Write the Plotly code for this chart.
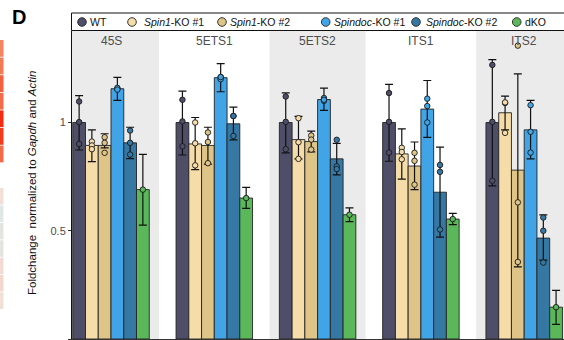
import plotly.graph_objects as go

# ---------------- data ----------------
groups = ["45S", "5ETS1", "5ETS2", "ITS1", "ITS2"]
genotypes = ["WT", "Spin1-KO #1", "Spin1-KO #2", "Spindoc-KO #1", "Spindoc-KO #2", "dKO"]
legend_labels = ["WT", "<i>Spin1</i>-KO #1", "<i>Spin1</i>-KO #2",
                 "<i>Spindoc</i>-KO #1", "<i>Spindoc</i>-KO #2", "dKO"]

means = {
    "WT":            [1.000, 1.000, 1.000, 1.000, 1.000],
    "Spin1-KO #1":   [0.894, 0.901, 0.921, 0.855, 1.045],
    "Spin1-KO #2":   [0.894, 0.894, 0.912, 0.799, 0.780],
    "Spindoc-KO #1": [1.156, 1.207, 1.106, 1.062, 0.966],
    "Spindoc-KO #2": [0.906, 0.994, 0.832, 0.678, 0.466],
    "dKO":           [0.690, 0.651, 0.574, 0.554, 0.147],
}
err_low = {
    "WT":            [0.873, 0.850, 0.860, 0.821, 0.707],
    "Spin1-KO #1":   [0.819, 0.782, 0.832, 0.738, 0.966],
    "Spin1-KO #2":   [0.883, 0.808, 0.864, 0.690, 0.333],
    "Spindoc-KO #1": [1.102, 1.142, 1.056, 0.931, 0.832],
    "Spindoc-KO #2": [0.833, 0.920, 0.758, 0.471, 0.364],
    "dKO":           [0.526, 0.603, 0.542, 0.528, 0.068],
}
err_high = {
    "WT":            [1.124, 1.145, 1.137, 1.176, 1.290],
    "Spin1-KO #1":   [0.966, 1.023, 1.028, 0.971, 1.122],
    "Spin1-KO #2":   [0.948, 0.978, 0.960, 0.910, 1.225],
    "Spindoc-KO #1": [1.208, 1.272, 1.159, 1.194, 1.102],
    "Spindoc-KO #2": [0.978, 1.071, 0.904, 0.886, 0.573],
    "dKO":           [0.853, 0.700, 0.606, 0.580, 0.225],
}
points = {
    "WT":            [[1.097, 0.901, 1.002], [1.105, 0.890, 1.005], [1.120, 0.877, 1.003],
                      [1.136, 0.861, 1.003], [1.266, 0.731, 1.003]],
    "Spin1-KO #1":   [[0.912, 0.894, 0.877], [1.000, 0.904, 0.802], [1.020, 0.909, 0.832],
                      [0.883, 0.864, 0.830], [1.090, 0.952, 1.093]],
    "Spin1-KO #2":   [[0.932, 0.906, 0.860], [0.954, 0.910, 0.812], [0.940, 0.921, 0.875],
                      [0.860, 0.823, 0.713], [1.355, 0.631, 0.356]],
    "Spindoc-KO #1": [[1.156, 1.160, 1.152], [1.210, 1.200, 1.210], [1.113, 1.100, 1.105],
                      [1.110, 1.000, 1.076], [1.080, 0.861, 0.957]],
    "Spindoc-KO #2": [[0.963, 0.906, 0.852], [1.030, 1.030, 0.938], [0.920, 0.797, 0.785],
                      [0.804, 0.772, 0.506], [0.561, 0.500, 0.353]],
    "dKO":           [[0.690], [0.651], [0.574], [0.554], [0.147]],
}
ytick_vals = [0, 0.5, 1]
ytick_text = ["0", "0.5", "1"]

# ---------------- styles ----------------
colors = ["#4f4e68", "#f5dca8", "#dfc487", "#40a4e6", "#3678a4", "#5bb85a"]
FONT = "Liberation Sans, Arial, sans-serif"
W, H = 564, 340
ML, MR, MT, MB = 72, 0, 31, 1
PW, PH = W - ML - MR, H - MT - MB
bar_w = 0.1234
unit_px = 103.3
x_lo = -(111 - ML) / unit_px
x_hi = x_lo + PW / unit_px
y_hi = PH / 216.5


def X(px):
    return (px - ML) / PW


def Y(py):
    return (H - MB - py) / PH


fig = go.Figure()

n = len(genotypes)
for k, g in enumerate(genotypes):
    xs = [i + (k - (n - 1) / 2) * bar_w for i in range(len(groups))]
    m = means[g]
    fig.add_trace(go.Bar(
        x=xs, y=m, width=bar_w,
        marker=dict(color=colors[k], line=dict(color="#222222", width=0.9)),
        error_y=dict(type="data", symmetric=False,
                     array=[h - v for h, v in zip(err_high[g], m)],
                     arrayminus=[v - l for l, v in zip(err_low[g], m)],
                     color="#111111", thickness=1.2, width=4),
        showlegend=False, name=g, hoverinfo="skip",
    ))

for k, g in enumerate(genotypes):
    px_, py_ = [], []
    for i in range(len(groups)):
        xc = i + (k - (n - 1) / 2) * bar_w
        for v in points[g][i]:
            px_.append(xc)
            py_.append(v)
    fig.add_trace(go.Scatter(
        x=px_, y=py_, mode="markers",
        marker=dict(size=5.5, color=colors[k], line=dict(color="#1a1a1a", width=0.9)),
        showlegend=False, name=g, hoverinfo="skip",
    ))

shapes = []
# alternating facet backgrounds
for i in range(0, len(groups), 2):
    shapes.append(dict(type="rect", xref="x", yref="paper", x0=i - 0.465, x1=i + 0.465,
                       y0=0, y1=1, fillcolor="#ebebeb", line=dict(width=0), layer="below"))

annotations = []
for i, gname in enumerate(groups):
    annotations.append(dict(x=i, y=Y(41.5), xref="x", yref="paper", text=gname,
                            showarrow=False, font=dict(family=FONT, size=12, color="#4d4d4d"),
                            xanchor="center", yanchor="middle"))

# legend box (manual)
shapes.append(dict(type="rect", xref="paper", yref="paper", x0=X(71.5), x1=X(567),
                   y0=Y(30.5), y1=Y(13), line=dict(color="#111111", width=1),
                   fillcolor="rgba(0,0,0,0)"))
leg_marker_px = [82, 132, 222, 325.7, 416, 516.7]
leg_text_px = [87.5, 142, 227.5, 331.5, 424, 522.5]
leg_y = 22
r = 4.3
for k in range(n):
    cx = leg_marker_px[k]
    shapes.append(dict(type="circle", xref="paper", yref="paper",
                       x0=X(cx - r), x1=X(cx + r), y0=Y(leg_y + r), y1=Y(leg_y - r),
                       fillcolor=colors[k], line=dict(color="#333333", width=1)))
    annotations.append(dict(x=X(leg_text_px[k]), y=Y(leg_y), xref="paper", yref="paper",
                            text=legend_labels[k], showarrow=False, xanchor="left",
                            yanchor="middle", font=dict(family=FONT, size=10.5, color="#111111")))

# panel letter
annotations.append(dict(x=X(19), y=Y(17), xref="paper", yref="paper", text="<b>D</b>",
                        showarrow=False, xanchor="center", yanchor="middle",
                        font=dict(family=FONT, size=20, color="#000000")))
# y-axis title
annotations.append(dict(x=X(32), y=Y(183), xref="paper", yref="paper",
                        text="Foldchange  normalized to <i>Gapdh</i> and <i>Actin</i>",
                        showarrow=False, textangle=-90, xanchor="center", yanchor="middle",
                        font=dict(family=FONT, size=11.5, color="#111111")))

# fragments of the neighbouring panel at the left edge
red_strip = ["#f5845f", "#f47a56", "#f3603f", "#f26b4a", "#f52a10", "#f43a1c", "#f36a48"]
pale_strip = ["#f2e0d8", "#e0e8e6", "#e4e4e0", "#e6e4e0", "#f0dcd4", "#f2d8cc", "#f0e0d8"]
for j, c in enumerate(red_strip):
    y0 = 40 + j * 17.6
    shapes.append(dict(type="rect", xref="paper", yref="paper", x0=X(0), x1=X(3.5),
                       y0=Y(y0 + 16.8), y1=Y(y0), fillcolor=c, line=dict(width=0)))
for j, c in enumerate(pale_strip):
    y0 = 188 + j * 17.4
    shapes.append(dict(type="rect", xref="paper", yref="paper", x0=X(0), x1=X(3.5),
                       y0=Y(y0 + 16.6), y1=Y(y0), fillcolor=c, line=dict(width=0)))

fig.update_layout(
    width=W, height=H,
    margin=dict(l=ML, r=MR, t=MT, b=MB),
    paper_bgcolor="white", plot_bgcolor="white",
    barmode="overlay",
    showlegend=False,
    shapes=shapes, annotations=annotations,
    font=dict(family=FONT, size=11, color="#333333"),
    xaxis=dict(range=[x_lo, x_hi], showticklabels=False, ticks="", showgrid=False,
               zeroline=False, showline=True, linecolor="#333333", linewidth=1),
    yaxis=dict(range=[0, y_hi], tickvals=ytick_vals, ticktext=ytick_text, ticks="outside",
               ticklen=3, tickcolor="#333333", showgrid=False, zeroline=False,
               showline=True, linecolor="#111111", linewidth=1,
               tickfont=dict(family=FONT, size=11, color="#4d4d4d")),
)

fig.write_html("out.html")
